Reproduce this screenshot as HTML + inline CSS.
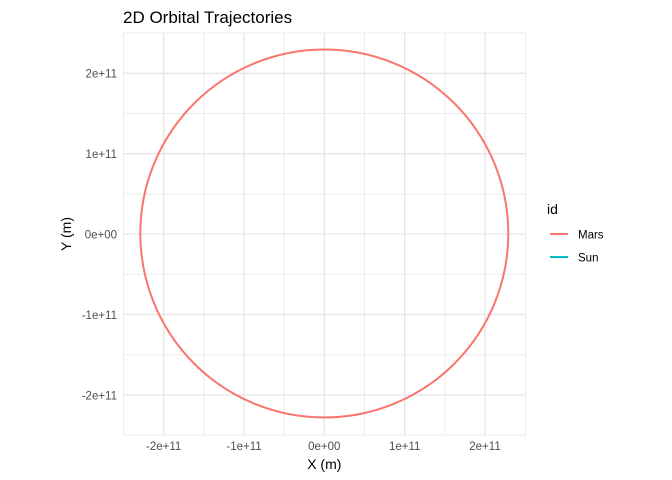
<!DOCTYPE html>
<html><head><meta charset="utf-8"><style>
html,body{margin:0;padding:0;background:#fff;}
svg{display:block;font-family:"Liberation Sans",Arial,sans-serif;}
</style></head><body>
<svg width="672" height="480" xmlns="http://www.w3.org/2000/svg">
<rect width="672" height="480" fill="#fff"/>
<g stroke="#ebebeb" stroke-width="1">
<line x1="123.5" y1="33" x2="123.5" y2="435"/>
<line x1="203.9" y1="33" x2="203.9" y2="435"/>
<line x1="284.1" y1="33" x2="284.1" y2="435"/>
<line x1="364.5" y1="33" x2="364.5" y2="435"/>
<line x1="445" y1="33" x2="445" y2="435"/>
<line x1="525.5" y1="33" x2="525.5" y2="435"/>
<line x1="123.5" y1="33" x2="526" y2="33"/>
<line x1="123.5" y1="113.5" x2="526" y2="113.5"/>
<line x1="123.5" y1="194" x2="526" y2="194"/>
<line x1="123.5" y1="274.3" x2="526" y2="274.3"/>
<line x1="123.5" y1="354.7" x2="526" y2="354.7"/>
<line x1="123.5" y1="435" x2="526" y2="435"/>
</g>
<g stroke="#e6e6e6" stroke-width="1.3">
<line x1="163.7" y1="33" x2="163.7" y2="435"/>
<line x1="244" y1="33" x2="244" y2="435"/>
<line x1="324.3" y1="33" x2="324.3" y2="435"/>
<line x1="404.7" y1="33" x2="404.7" y2="435"/>
<line x1="485" y1="33" x2="485" y2="435"/>
<line x1="123.5" y1="73.3" x2="526" y2="73.3"/>
<line x1="123.5" y1="153.7" x2="526" y2="153.7"/>
<line x1="123.5" y1="234" x2="526" y2="234"/>
<line x1="123.5" y1="314.5" x2="526" y2="314.5"/>
<line x1="123.5" y1="395" x2="526" y2="395"/>
</g>
<circle cx="324.3" cy="233.5" r="184" fill="none" stroke="#F8766D" stroke-width="2"/>
<g font-size="11.5" fill="#4d4d4d" text-anchor="end">
<text x="117" y="77.5">2e+11</text>
<text x="117" y="158">1e+11</text>
<text x="117" y="238.5">0e+00</text>
<text x="117" y="319">-1e+11</text>
<text x="117" y="399.5">-2e+11</text>
</g>
<g font-size="11.5" fill="#4d4d4d" text-anchor="middle">
<text x="163.7" y="450">-2e+11</text>
<text x="244" y="450">-1e+11</text>
<text x="324.3" y="450">0e+00</text>
<text x="404.7" y="450">1e+11</text>
<text x="485" y="450">2e+11</text>
</g>
<text x="324.3" y="469" font-size="14" text-anchor="middle" fill="#000">X (m)</text>
<text transform="translate(71,234) rotate(-90)" font-size="14" text-anchor="middle" fill="#000">Y (m)</text>
<text x="123" y="23" font-size="17" fill="#000">2D Orbital Trajectories</text>
<text x="547" y="214" font-size="14" fill="#000">id</text>
<line x1="550" y1="234" x2="568" y2="234" stroke="#F8766D" stroke-width="2"/>
<line x1="550" y1="257" x2="568" y2="257" stroke="#00BFC4" stroke-width="2"/>
<text x="578" y="238.5" font-size="11.5" fill="#000">Mars</text>
<text x="578" y="261.5" font-size="11.5" fill="#000">Sun</text>
</svg>
</body></html>
